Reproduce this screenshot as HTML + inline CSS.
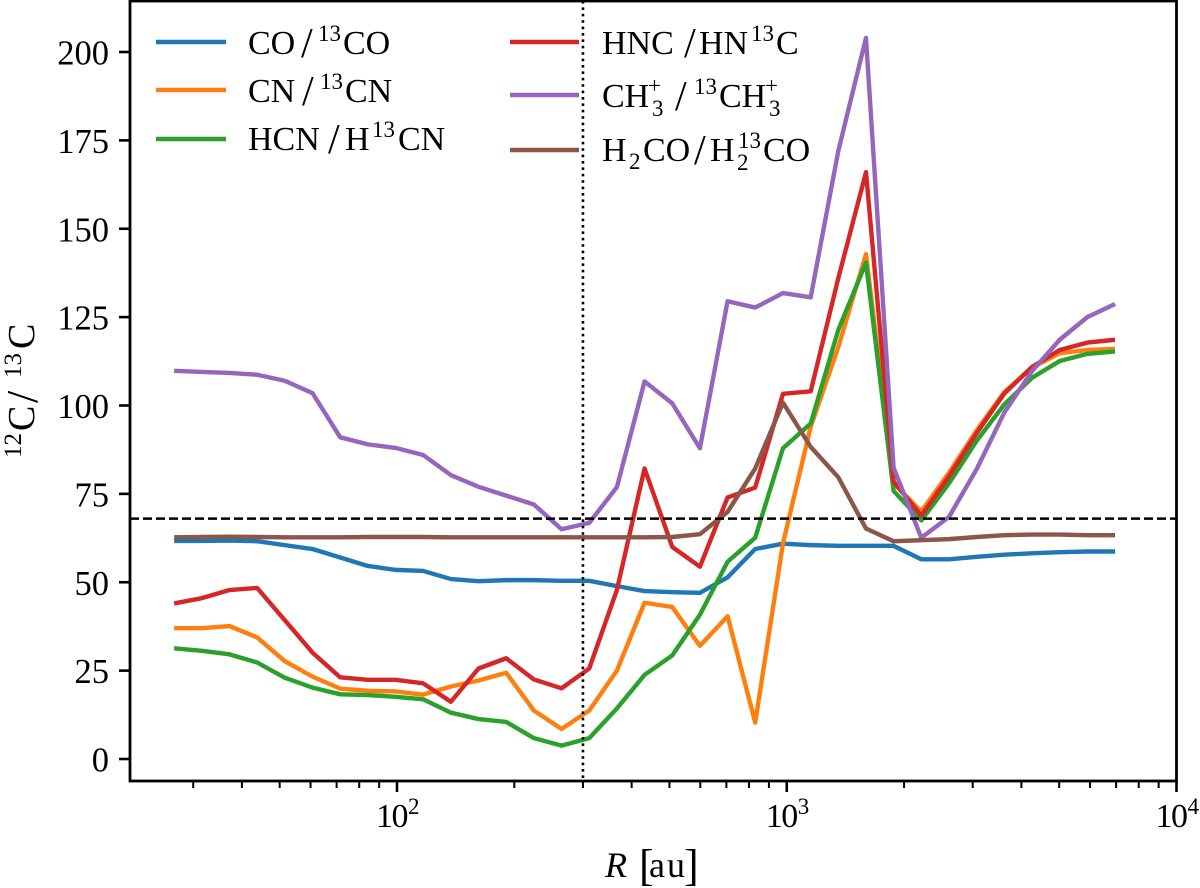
<!DOCTYPE html>
<html lang="en">
<head>
<meta charset="utf-8">
<title>12C/13C ratio versus radius</title>
<style>
  html, body { margin: 0; padding: 0; background: #fff; }
  svg { display: block; filter: blur(0.35px); }
  text { font-family: "Liberation Serif", "DejaVu Serif", serif; fill: #000; }
</style>
</head>
<body>
<svg id="chart" xmlns="http://www.w3.org/2000/svg" width="1200" height="888" viewBox="0 0 1200 888">
  <rect x="130" y="1" width="1046.5" height="780" fill="#fff"/>
  <g id="marks"></g>
  <g id="refs"></g>
  <g id="axes"></g>

  <g font-size="34">
    <line x1="156" x2="226" y1="42" y2="42" stroke="#1f77b4" stroke-width="4.4"/>
    <text><tspan x="248" y="54">CO</tspan><tspan x="301" y="57" font-size="42">/</tspan><tspan x="318" y="41" font-size="23">13</tspan><tspan x="343" y="54">CO</tspan></text>
    <line x1="156" x2="226" y1="90" y2="90" stroke="#ff7f0e" stroke-width="4.4"/>
    <text><tspan x="248" y="102">CN</tspan><tspan x="302" y="105" font-size="42">/</tspan><tspan x="320" y="89" font-size="23">13</tspan><tspan x="345" y="102">CN</tspan></text>
    <line x1="156" x2="226" y1="139" y2="139" stroke="#2ca02c" stroke-width="4.4"/>
    <text><tspan x="248" y="150">HCN</tspan><tspan x="328" y="153" font-size="42">/</tspan><tspan x="345" y="150">H</tspan><tspan x="372" y="137" font-size="23">13</tspan><tspan x="398" y="150">CN</tspan></text>

    <line x1="510" x2="579" y1="42" y2="42" stroke="#d62728" stroke-width="4.4"/>
    <text><tspan x="602" y="54">HNC</tspan><tspan x="684" y="57" font-size="42">/</tspan><tspan x="699" y="54">HN</tspan><tspan x="751" y="41" font-size="23">13</tspan><tspan x="776" y="54">C</tspan></text>
    <line x1="510" x2="579" y1="95" y2="95" stroke="#9467bd" stroke-width="4.4"/>
    <text><tspan x="602" y="107">CH</tspan><tspan x="652" y="116" font-size="23">3</tspan><tspan x="648" y="93" font-size="23">+</tspan><tspan x="675" y="110" font-size="42">/</tspan><tspan x="694" y="94" font-size="23">13</tspan><tspan x="719" y="107">CH</tspan><tspan x="769" y="116" font-size="23">3</tspan><tspan x="765" y="93" font-size="23">+</tspan></text>
    <line x1="510" x2="579" y1="150" y2="150" stroke="#8c564b" stroke-width="4.4"/>
    <text><tspan x="602" y="161">H</tspan><tspan x="629" y="169" font-size="23">2</tspan><tspan x="643" y="161">CO</tspan><tspan x="694" y="164" font-size="42">/</tspan><tspan x="710" y="161">H</tspan><tspan x="737" y="170" font-size="23">2</tspan><tspan x="738" y="148" font-size="23">13</tspan><tspan x="763" y="161">CO</tspan></text>
  </g>

  <text font-size="36"><tspan x="605" y="877" font-style="italic">R</tspan><tspan x="639" y="880" font-size="44">[</tspan><tspan x="649" y="877" letter-spacing="2">au</tspan><tspan x="684" y="880" font-size="44">]</tspan></text>
  <text transform="translate(34,458) rotate(-90)" font-size="38"><tspan x="0" y="-13" font-size="25">12</tspan><tspan x="27" y="0">C</tspan><tspan x="55" y="3" font-size="44">/</tspan><tspan x="80" y="-13" font-size="25">13</tspan><tspan x="109" y="0">C</tspan></text>
</svg>
<script>
var radiiAu = [26.8, 31.56, 37.17, 43.77, 51.5, 60.7, 71.5, 84.2, 99.1, 116.7, 137.5, 161.9, 190.6, 224.5, 264.4, 311.3, 366.6, 431.7, 508.4, 598.7, 705, 830, 978, 1152, 1356, 1597, 1880, 2214, 2608, 3071, 3616, 4258, 5015, 5905, 6955];
var coValues = [61.7, 61.7, 61.8, 61.6, 60.5, 59.4, 57, 54.6, 53.5, 53.2, 50.9, 50.3, 50.6, 50.6, 50.4, 50.4, 48.9, 47.5, 47.2, 47, 51.4, 59.4, 60.9, 60.5, 60.3, 60.3, 60.3, 56.5, 56.5, 57.2, 57.8, 58.2, 58.5, 58.7, 58.7];
var cnValues = [37, 37, 37.6, 34.4, 27.7, 23.3, 19.9, 19.3, 19.1, 18.2, 20.5, 22.2, 24.4, 13.7, 8.5, 13.7, 25, 44.2, 43, 32, 40.4, 10.3, 61, 94, 116.5, 142.8, 78, 70, 81, 93, 103.8, 110.7, 114.8, 115.7, 116];
var hcnValues = [31.3, 30.6, 29.6, 27.3, 23, 20.2, 18.3, 18.1, 17.6, 16.9, 13.1, 11.3, 10.5, 5.9, 3.8, 5.9, 14.3, 23.8, 29.3, 40.8, 55.8, 62.6, 87.9, 94.9, 121.4, 140.4, 75.8, 67.5, 78, 90, 100.3, 107.8, 112.6, 114.6, 115.3];
var hncValues = [44, 45.5, 47.8, 48.4, 39.3, 30.1, 23.1, 22.4, 22.4, 21.4, 16.2, 25.6, 28.5, 22.5, 20, 25.6, 47.8, 82.2, 60, 54.4, 74, 76.8, 103.3, 104, 136, 166, 78.5, 68.8, 80, 92.2, 103.4, 110.9, 115.7, 117.8, 118.6];
var ch3Values = [109.8, 109.5, 109.2, 108.7, 107, 103.5, 91, 89, 88, 86, 80.3, 77, 74.5, 72, 65, 66.8, 76.9, 106.8, 100.6, 87.9, 129.5, 127.7, 131.8, 130.6, 172, 204, 82.4, 62.6, 68.5, 82, 98, 109.7, 118.6, 125, 128.7];
var h2coValues = [62.7, 62.8, 62.9, 62.8, 62.7, 62.7, 62.7, 62.8, 62.8, 62.8, 62.7, 62.7, 62.7, 62.7, 62.7, 62.7, 62.7, 62.7, 62.8, 63.6, 69.9, 82.2, 100.8, 88.3, 79.7, 65.2, 61.6, 61.9, 62.2, 62.8, 63.3, 63.5, 63.5, 63.3, 63.3];
var seriesNames = ['co', 'cn', 'hcn', 'hnc', 'ch3', 'h2co'];
var seriesColors = ['#1f77b4', '#ff7f0e', '#2ca02c', '#d62728', '#9467bd', '#8c564b'];
var yTickValues = [0, 25, 50, 75, 100, 125, 150, 175, 200];
var xMajorExponents = [2, 3, 4];
var xMinorDecades = [10, 100, 1000];
var xMinorFactors = [2, 3, 4, 5, 6, 7, 8, 9];
var referenceRatio = 68;
var referenceRadius = 300;

var SVG_NS = 'http://www.w3.org/2000/svg';
var axisLeft = 130, axisRight = 1176.5, axisTop = 1, axisBottom = 781;

function xScale(r) { return 397 + 389.75 * (Math.log(r) / Math.LN10 - 2); }
function yScale(v) { return 759 - 3.535 * v; }
function make(tag, attrs, parent) {
  var el = document.createElementNS(SVG_NS, tag);
  for (var k in attrs) el.setAttribute(k, attrs[k]);
  parent.appendChild(el);
  return el;
}

var marks = document.getElementById('marks');
var refs = document.getElementById('refs');
var axes = document.getElementById('axes');

var allSeries = [coValues, cnValues, hcnValues, hncValues, ch3Values, h2coValues];
allSeries.forEach(function (values, s) {
  var pts = values.map(function (v, i) { return xScale(radiiAu[i]).toFixed(2) + ',' + yScale(v).toFixed(2); }).join(' ');
  var line = make('polyline', {points: pts, fill: 'none', stroke: seriesColors[s], 'stroke-width': 4.4, 'stroke-linejoin': 'round', 'stroke-linecap': 'butt'}, marks);
  
  
});

var refH = make('line', {x1: axisLeft, x2: axisRight, y1: yScale(referenceRatio), y2: yScale(referenceRatio), stroke: '#000', 'stroke-width': 2.6, 'stroke-dasharray': '9 4'}, refs);


var refV = make('line', {x1: xScale(referenceRadius), x2: xScale(referenceRadius), y1: axisTop, y2: axisBottom, stroke: '#000', 'stroke-width': 2.6, 'stroke-dasharray': '2.6 3.8'}, refs);



var frame = make('rect', {x: axisLeft, y: axisTop, width: axisRight - axisLeft, height: axisBottom - axisTop, fill: 'none', stroke: '#000', 'stroke-width': 2.8}, axes);



yTickValues.forEach(function (v) {
  var y = yScale(v);
  var tick = make('line', {x1: axisLeft - 11, x2: axisLeft, y1: y, y2: y, stroke: '#000', 'stroke-width': 2.6}, axes);
  
  
  var label = make('text', {x: 109, y: y + 12.5, 'text-anchor': 'end', 'font-size': 34.5}, axes);
  label.textContent = String(v);
  
  
});

xMinorDecades.forEach(function (d) {
  xMinorFactors.forEach(function (f) {
    var r = d * f;
    var x = xScale(r);
    if (x < axisLeft) return;
    var tick = make('line', {x1: x, x2: x, y1: axisBottom, y2: axisBottom + 7, stroke: '#000', 'stroke-width': 2}, axes);
    
    
  });
});

xMajorExponents.forEach(function (e) {
  var x = xScale(Math.pow(10, e));
  var tick = make('line', {x1: x, x2: x, y1: axisBottom, y2: axisBottom + 11, stroke: '#000', 'stroke-width': 2.6}, axes);
  
  
  var label = make('text', {'font-size': 34}, axes);
  
  
  var base = make('tspan', {x: x - 21, y: 827, 'letter-spacing': -1.5}, label);
  base.textContent = '10';
  var sup = make('tspan', {x: x + 11, y: 814, 'font-size': 23}, label);
  sup.textContent = String(e);
});
</script>
</body>
</html>
